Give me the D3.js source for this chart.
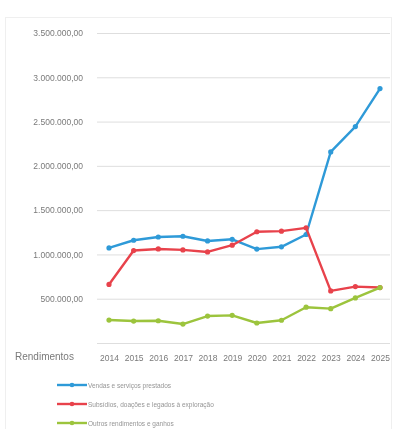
<!DOCTYPE html>
<html>
<head>
<meta charset="utf-8">
<script src="https://cdn.jsdelivr.net/npm/d3@7"></script>
<style>
  html, body { margin: 0; padding: 0; background: #fff; }
  svg { display: block; }
  text { font-family: "Liberation Sans", Arial, sans-serif; }
</style>
</head>
<body>
<svg id="chart" width="395" height="429"></svg>
<script>
// Annual income by source (EUR)
const years = ["2014","2015","2016","2017","2018","2019","2020","2021","2022","2023","2024","2025"];
const vendas = [1073000, 1160000, 1197000, 1205000, 1152000, 1171000, 1060000, 1086000, 1225000, 2157000, 2443000, 2873000];
const subsidios = [661000, 1044000, 1062000, 1051000, 1028000, 1104000, 1256000, 1263000, 1300000, 588000, 637000, 626000];
const outros = [259000, 248000, 251000, 214000, 304000, 312000, 226000, 257000, 404000, 388000, 509000, 626000];
const seriesNames = ["Vendas e serviços prestados", "Subsídios, doações e legados à exploração", "Outros rendimentos e ganhos"];
const seriesColors = ["#2f9ad8", "#e8424b", "#9cc43c"];
const yTicks = [500000, 1000000, 1500000, 2000000, 2500000, 3000000, 3500000];
const axisTitle = "Rendimentos";

const series = [vendas, subsidios, outros];

const svg = d3.select("#chart");
const root = svg.append("g").attr("filter", "url(#soft)");

svg.append("defs").append("filter").attr("id", "soft")
  .append("feGaussianBlur").attr("stdDeviation", 0.3);

// outer chart frame
root.append("rect")
  .attr("x", 5.5).attr("y", 17.5)
  .attr("width", 386).attr("height", 420)
  .attr("fill", "none").attr("stroke", "#efefef");

const x = d3.scalePoint().domain(years).range([109, 380]);
const y = d3.scaleLinear().domain([0, 3500000]).range([343, 33]);

const fmt = v => d3.format(",.2f")(v).replace(/,/g, "#").replace(/\./g, ",").replace(/#/g, ".");

// horizontal gridlines with value labels
const yAxis = d3.axisLeft(y).tickValues(yTicks).tickSize(0).tickFormat(fmt);
const gy = root.append("g").attr("transform", "translate(97,0)").call(yAxis);
gy.select(".domain").remove();
gy.selectAll("text")
  .attr("x", -14)
  .attr("fill", "#7a7a7a")
  .style("font-size", "8.5px")
  .style("font-family", "'Liberation Sans', Arial, sans-serif");

root.append("g").selectAll("line")
  .data(yTicks)
  .join("line")
  .attr("x1", 97).attr("x2", 390)
  .attr("y1", d => y(d) + 0.5).attr("y2", d => y(d) + 0.5)
  .attr("stroke", "#dedede").attr("stroke-width", 1);

// baseline
root.append("line")
  .attr("x1", 97).attr("x2", 390)
  .attr("y1", y(0) + 0.5).attr("y2", y(0) + 0.5)
  .attr("stroke", "#dedede");

// category axis
const xAxis = d3.axisBottom(x).tickSize(0);
const gx = root.append("g").attr("transform", `translate(0,${y(0) + 9})`).call(xAxis);
gx.select(".domain").remove();
gx.selectAll("text")
  .attr("fill", "#7a7a7a")
  .style("font-size", "8.5px")
  .style("font-family", "'Liberation Sans', Arial, sans-serif");

root.append("text")
  .attr("x", 15).attr("y", 360)
  .attr("fill", "#7a7a7a")
  .style("font-size", "10px")
  .text(axisTitle);

// series lines and markers
const line = d3.line().x((d, i) => x(years[i])).y(d => y(d));
series.forEach((vals, s) => {
  root.append("path")
    .datum(vals)
    .attr("d", line)
    .attr("fill", "none")
    .attr("stroke", seriesColors[s])
    .attr("stroke-width", 2.4)
    .attr("stroke-linejoin", "round");
  root.append("g").selectAll("circle")
    .data(vals)
    .join("circle")
    .attr("cx", (d, i) => x(years[i]))
    .attr("cy", d => y(d))
    .attr("r", 2.6)
    .attr("fill", seriesColors[s]);
});

// legend
const legend = root.append("g").selectAll("g")
  .data(seriesNames)
  .join("g")
  .attr("transform", (d, i) => `translate(57,${385 + i * 19})`);
legend.append("line")
  .attr("x1", 0).attr("x2", 30)
  .attr("stroke", (d, i) => seriesColors[i])
  .attr("stroke-width", 2.4);
legend.append("circle")
  .attr("cx", 15).attr("r", 2.3)
  .attr("fill", (d, i) => seriesColors[i]);
legend.append("text")
  .attr("x", 31).attr("y", 2.5)
  .attr("fill", "#959595")
  .style("font-size", "6.5px")
  .text(d => d);
</script>
</body>
</html>
